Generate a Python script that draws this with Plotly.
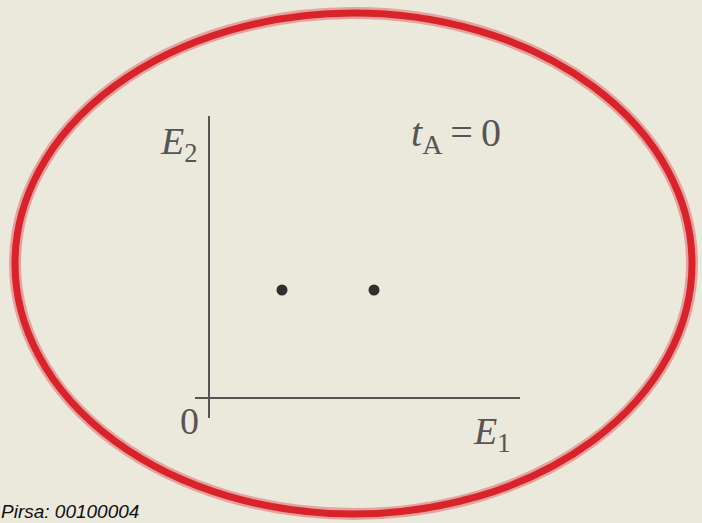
import plotly.graph_objects as go

# Diagram data (coordinates in the E1/E2 plane, origin at axes crossing)
dot_e1 = [73, 165]
dot_e2 = [108, 108]
axis_labels = ["<i>E</i><sub>1</sub>", "<i>E</i><sub>2</sub>"]
state_label = "<i>t</i><sub>A</sub>\u2009=\u20090"
origin_label = "0"
footer_text = "Pirsa: 00100004"

BG = "#ebe8dc"
INK = "#555555"
RED = "#d8232a"

fig = go.Figure()

# axes of the diagram
fig.add_trace(go.Scatter(x=[0, 0], y=[-20, 282], mode="lines",
                         line=dict(color=INK, width=2), hoverinfo="skip", showlegend=False))
fig.add_trace(go.Scatter(x=[-14, 311], y=[0, 0], mode="lines",
                         line=dict(color=INK, width=2), hoverinfo="skip", showlegend=False))

# the two points
fig.add_trace(go.Scatter(x=dot_e1, y=dot_e2, mode="markers",
                         marker=dict(color="#2f2f2f", size=11), showlegend=False))

# red ellipse (hand-drawn highlight)
fig.add_shape(type="circle", xref="x", yref="y", x0=-194, x1=483, y0=-116, y1=385,
              line=dict(color="rgba(216,35,42,0.35)", width=12), layer="above")
fig.add_shape(type="circle", xref="x", yref="y", x0=-194, x1=483, y0=-116, y1=385,
              line=dict(color=RED, width=7), layer="above")

serif = "Liberation Serif, Times New Roman, serif"
fig.add_annotation(x=-30, y=254, text=axis_labels[1], showarrow=False,
                   font=dict(family=serif, size=38, color=INK))
fig.add_annotation(x=283, y=-36, text=axis_labels[0], showarrow=False,
                   font=dict(family=serif, size=38, color=INK))
fig.add_annotation(x=247, y=263, text=state_label, showarrow=False,
                   font=dict(family=serif, size=40, color=INK))
fig.add_annotation(x=-20, y=-23, text=origin_label, showarrow=False,
                   font=dict(family=serif, size=38, color=INK))

fig.add_annotation(xref="paper", yref="paper", x=0.0, y=0.0, xanchor="left", yanchor="bottom",
                   text="<i>" + footer_text + "</i>", showarrow=False,
                   font=dict(family="Liberation Sans, Arial, sans-serif", size=19, color="#111"),
                   borderpad=0)

fig.update_xaxes(range=[-209, 493], visible=False, fixedrange=True)
fig.update_yaxes(range=[-125, 398], visible=False, fixedrange=True)
fig.update_layout(width=702, height=523, margin=dict(l=0, r=0, t=0, b=0),
                  paper_bgcolor=BG, plot_bgcolor=BG, showlegend=False)

fig.write_html("out.html", config={"displayModeBar": False},
               post_script="document.body.style.margin='0';document.body.style.overflow='hidden';")
